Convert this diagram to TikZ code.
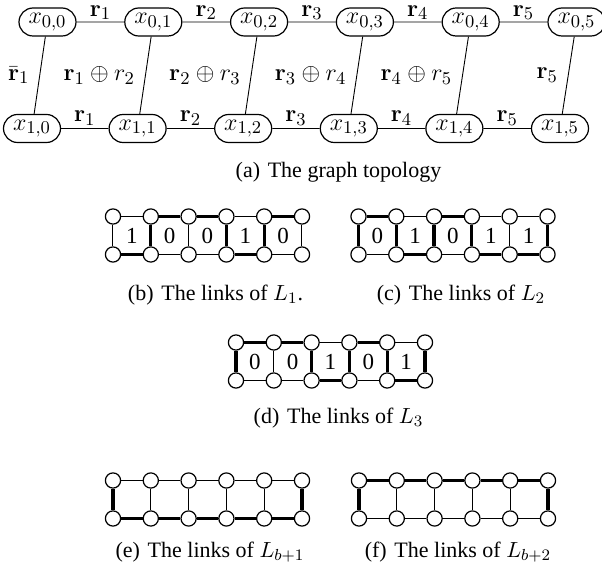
\documentclass[tikz,border=0pt]{standalone}
\usepackage[no-math]{fontspec}
\setmainfont{Liberation Serif}
\usetikzlibrary{shapes.misc}
\newcommand{\linkgrid}[6]{%
  \foreach \k in {0,...,5}{%
    \node[vtx] (#1t\k) at ({#2+\k*37.8},#3) {};
    \node[vtx] (#1b\k) at ({#2+\k*37.8},{#3+38}) {};}
  \foreach \s [count=\jj] in {#4}{\pgfmathtruncatemacro\ii{\jj-1}\draw[\s] (#1t\ii) -- (#1t\jj);}
  \foreach \s [count=\jj] in {#5}{\pgfmathtruncatemacro\ii{\jj-1}\draw[\s] (#1b\ii) -- (#1b\jj);}
  \foreach \s [count=\jj] in {#6}{\pgfmathtruncatemacro\ii{\jj-1}\draw[\s] (#1t\ii) -- (#1b\ii);}
}
\newcommand{\griddigits}[4]{%
  \foreach \d [count=\jj] in {#4}{\pgfmathtruncatemacro\ii{\jj-1}\node[dig] (#1d\ii) at ({#2+(\jj-0.5)*37.8},{#3+19}) {\d};}
}
\begin{document}
\begin{tikzpicture}[x=0.5pt,y=-0.5pt,
  var/.style={draw, rounded rectangle, line width=0.6pt, minimum width=28.5pt, minimum height=14pt, inner sep=0pt, font=\fontsize{13}{15}\selectfont},
  lbl/.style={font=\fontsize{13}{15}\selectfont, inner sep=0pt},
  gedge/.style={line width=0.45pt},
  vtx/.style={circle, draw, fill=white, line width=0.6pt, minimum size=7.6pt, inner sep=0pt},
  thn/.style={line width=0.5pt},
  thk/.style={line width=1.6pt},
  dig/.style={font=\fontsize{11.5}{13}\selectfont, inner sep=0pt},
  captext/.style={font=\fontsize{11}{13}\selectfont, inner sep=0pt}]
\useasboundingbox (0,0) rectangle (602,577);
% (a) graph topology
\foreach \k in {0,...,5}{%
  \node[var] (t\k) at ({47.5+\k*105.8},22) {$x_{0,\k}$};
  \node[var] (b\k) at ({32+\k*105.6},128.5) {$x_{1,\k}$};}
\foreach \jj in {1,...,5}{\pgfmathtruncatemacro\ii{\jj-1}
  \draw[gedge] (t\ii) -- node[lbl, above=0.8pt] {$\mathbf{r}_{\jj}$} (t\jj);
  \draw[gedge] (b\ii) -- node[lbl, above=1.5pt] {$\mathbf{r}_{\jj}$} (b\jj);}
\draw[gedge] (t0) -- node[lbl, left=5pt] {$\bar{\mathbf{r}}_1$} (b0);
\draw[gedge] (t1) -- node[lbl, left=5pt] {$\mathbf{r}_1\oplus r_2$} (b1);
\draw[gedge] (t2) -- node[lbl, left=5pt] {$\mathbf{r}_2\oplus r_3$} (b2);
\draw[gedge] (t3) -- node[lbl, left=5pt] {$\mathbf{r}_3\oplus r_4$} (b3);
\draw[gedge] (t4) -- node[lbl, left=5pt] {$\mathbf{r}_4\oplus r_5$} (b4);
\draw[gedge] (t5) -- node[lbl, left=5pt] {$\mathbf{r}_5$} (b5);
\node[captext] (capa) at (338.5,172) {(a)\hspace{0.35em}The graph topology};
% (b)
\linkgrid{gb}{113}{216.5}{thn,thk,thk,thn,thk}{thk,thn,thn,thk,thn}{thn,thk,thn,thk,thk,thn}
\griddigits{gb}{113}{216.5}{1,0,0,1,0}
\node[captext] (capb) at (215.5,295) {(b)\hspace{0.35em}The links of $L_1$.};
% (c)
\linkgrid{gc}{358.5}{216.5}{thk,thn,thk,thn,thn}{thn,thk,thn,thk,thk}{thk,thk,thk,thk,thn,thk}
\griddigits{gc}{358.5}{216.5}{0,1,0,1,1}
\node[captext] (capc) at (461,295) {(c)\hspace{0.35em}The links of $L_2$};
% (d)
\linkgrid{gd}{236}{342.5}{thk,thk,thn,thk,thn}{thn,thn,thk,thn,thk}{thk,thn,thk,thk,thk,thk}
\griddigits{gd}{236}{342.5}{0,0,1,0,1}
\node[captext] (capd) at (338.5,418) {(d)\hspace{0.35em}The links of $L_3$};
% (e)
\linkgrid{ge}{113}{480.5}{thn,thn,thn,thn,thn}{thk,thk,thk,thk,thk}{thk,thn,thn,thn,thn,thk}
\node[captext] (cape) at (210,552) {(e)\hspace{0.35em}The links of $L_{b+1}$};
% (f)
\linkgrid{gf}{359}{480.5}{thk,thk,thk,thk,thk}{thn,thn,thn,thn,thn}{thk,thn,thn,thn,thn,thk}
\node[captext] (capf) at (458,552) {(f)\hspace{0.35em}The links of $L_{b+2}$};
\end{tikzpicture}
\end{document}
